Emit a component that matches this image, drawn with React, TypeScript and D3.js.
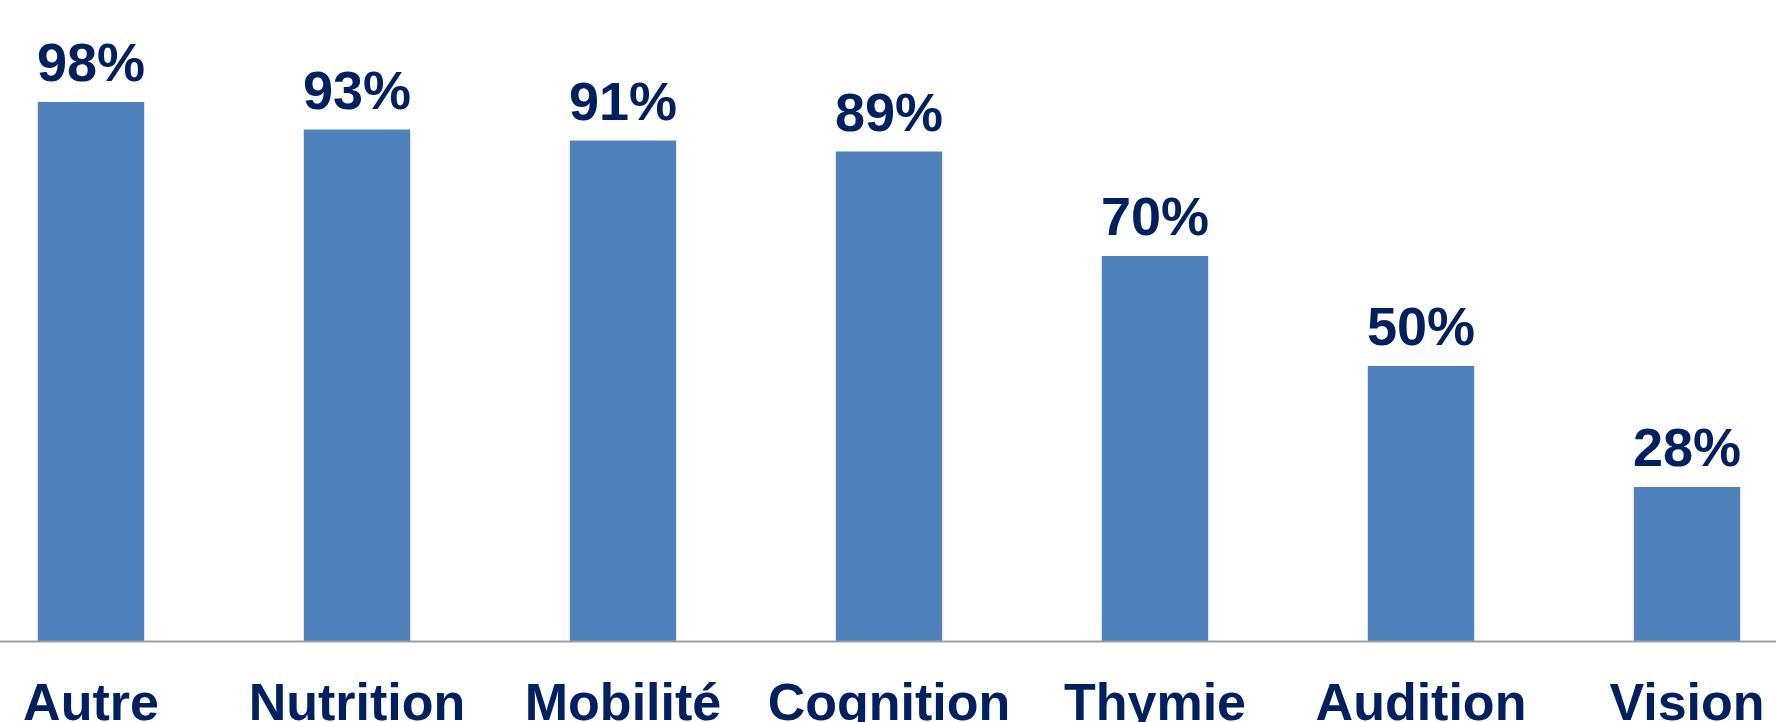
import React from "react";
import * as d3 from "d3";

const categories = ["Autre", "Nutrition", "Mobilité", "Cognition", "Thymie", "Audition", "Vision"];
const values = [98, 93, 91, 89, 70, 50, 28];
const valueLabels = ["98%", "93%", "91%", "89%", "70%", "50%", "28%"];

const W = 1776;
const H = 722;
const BASE = 641;

export default function App() {
  const x = d3
    .scaleBand<string>()
    .domain(categories)
    .range([-42, 1820])
    .paddingInner(0.6)
    .paddingOuter(0.3);
  const y = d3.scaleLinear().domain([0, 100]).range([BASE, 91]);
  const font = "'Liberation Sans', Arial, Helvetica, sans-serif";
  const textColor = "#002060";

  return (
    <svg
      width={W}
      height={H}
      style={{ position: "fixed", left: 0, top: 0, background: "#fff" }}
    >
      <rect x={0} y={0} width={W} height={H} fill="#ffffff" />
      {categories.map((c, i) => {
        const bx = x(c)!;
        const by = y(values[i]);
        return (
          <g key={c}>
            <rect
              x={bx}
              y={by}
              width={x.bandwidth()}
              height={BASE - by}
              fill="#4F81BD"
            />
            <text
              x={bx + x.bandwidth() / 2}
              y={by - 21}
              textAnchor="middle"
              fontFamily={font}
              fontWeight="bold"
              fontSize={54}
              fill={textColor}
            >
              {valueLabels[i]}
            </text>
            <text
              x={bx + x.bandwidth() / 2}
              y={720}
              textAnchor="middle"
              fontFamily={font}
              fontWeight="bold"
              fontSize={52}
              fill={textColor}
            >
              {c}
            </text>
          </g>
        );
      })}
      <line x1={0} x2={W} y1={BASE + 0.5} y2={BASE + 0.5} stroke="#A0A0A0" strokeWidth={2} />
    </svg>
  );
}
